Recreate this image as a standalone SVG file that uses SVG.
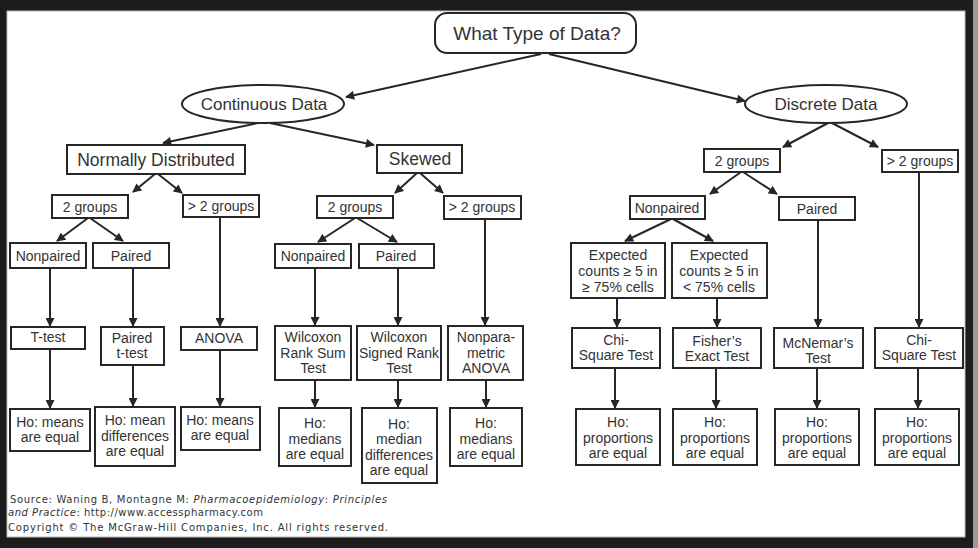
<svg xmlns="http://www.w3.org/2000/svg" width="978" height="548" viewBox="0 0 978 548">
<style>
.box{fill:#fff;stroke:#262626;stroke-width:2}
.t{font-family:"Liberation Sans",Arial,sans-serif;font-size:14px;fill:#333;text-anchor:middle}
.big{font-size:17.5px}
.ell{font-size:17px}
.c line{stroke:#262626;stroke-width:2;marker-end:url(#ah)}
.src{font-family:"DejaVu Sans",Verdana,sans-serif;font-size:10px;fill:#333}
</style>
<defs>
<marker id="ah" viewBox="0 0 10 10" refX="9" refY="5" markerWidth="10" markerHeight="9" markerUnits="userSpaceOnUse" orient="auto">
<path d="M0,0 L10,5 L0,10 z" fill="#262626"/>
</marker>
</defs>
<rect x="0" y="0" width="978" height="548" fill="#1c1c1c"/>
<rect x="7" y="11" width="958" height="526" fill="#fff" stroke="#bbb" stroke-width="1"/>
<rect x="973" y="0" width="5" height="548" fill="#9a9a9a"/>

<g class="c" id="connectors">
<line x1="541" y1="54" x2="346" y2="97"/>
<line x1="549" y1="54" x2="745" y2="101"/>
<line x1="258" y1="123" x2="163" y2="143"/>
<line x1="270" y1="123" x2="374" y2="145"/>
<line x1="828" y1="123" x2="783" y2="147"/>
<line x1="832" y1="123" x2="878" y2="147"/>
<line x1="155" y1="174" x2="133" y2="192"/>
<line x1="158" y1="174" x2="182" y2="193"/>
<line x1="417" y1="173" x2="395" y2="193"/>
<line x1="420" y1="173" x2="443" y2="193"/>
<line x1="741" y1="172" x2="710" y2="194"/>
<line x1="743" y1="172" x2="777" y2="194"/>
<line x1="88" y1="218" x2="57" y2="241"/>
<line x1="90" y1="218" x2="123" y2="241"/>
<line x1="355" y1="218" x2="318" y2="242"/>
<line x1="357" y1="218" x2="397" y2="242"/>
<line x1="671" y1="219" x2="625" y2="241"/>
<line x1="673" y1="219" x2="713" y2="241"/>
<line x1="50" y1="268" x2="50" y2="326"/>
<line x1="133" y1="268" x2="133" y2="326"/>
<line x1="220" y1="217" x2="220" y2="326"/>
<line x1="315" y1="268" x2="315" y2="325"/>
<line x1="398" y1="268" x2="398" y2="325"/>
<line x1="485" y1="219" x2="485" y2="325"/>
<line x1="617" y1="298" x2="617" y2="327"/>
<line x1="717" y1="298" x2="717" y2="327"/>
<line x1="818" y1="220" x2="818" y2="327"/>
<line x1="919" y1="172" x2="919" y2="327"/>
<line x1="50" y1="349" x2="50" y2="408"/>
<line x1="133" y1="365" x2="133" y2="406"/>
<line x1="220" y1="350" x2="220" y2="406"/>
<line x1="315" y1="380" x2="315" y2="407"/>
<line x1="398" y1="380" x2="398" y2="407"/>
<line x1="486" y1="380" x2="486" y2="407"/>
<line x1="615" y1="368" x2="615" y2="408"/>
<line x1="716" y1="368" x2="716" y2="408"/>
<line x1="817" y1="368" x2="817" y2="408"/>
<line x1="918" y1="368" x2="918" y2="408"/>
</g>

<g id="root"><rect class="box" x="435" y="13" width="201" height="40" rx="12" stroke-width="2.5"/><text class="t" x="537" y="40" font-size="19" style="font-size:19px">What Type of Data?</text></g>
<g id="continuous"><ellipse class="box" cx="263" cy="104" rx="81" ry="19"/><text class="t ell" x="264" y="110">Continuous Data</text></g>
<g id="discrete"><ellipse class="box" cx="826" cy="104" rx="81" ry="19"/><text class="t ell" x="826" y="110">Discrete Data</text></g>

<g id="normal"><rect class="box" x="67" y="145" width="178" height="29"/><text class="t big" x="156" y="166">Normally Distributed</text></g>
<g id="skewed"><rect class="box" x="377" y="145" width="85" height="28"/><text class="t big" x="420" y="165">Skewed</text></g>

<g id="nd-2g"><rect class="box" x="52" y="195" width="76" height="23"/><text class="t" x="90" y="212">2 groups</text></g>
<g id="nd-gt2"><rect class="box" x="183" y="195" width="76" height="22"/><text class="t" x="221" y="211">&gt; 2 groups</text></g>
<g id="nd-np"><rect class="box" x="10" y="243" width="76" height="25"/><text class="t" x="48" y="261">Nonpaired</text></g>
<g id="nd-p"><rect class="box" x="93" y="243" width="76" height="25"/><text class="t" x="131" y="261">Paired</text></g>

<g id="sk-2g"><rect class="box" x="317" y="196" width="76" height="22"/><text class="t" x="355" y="212">2 groups</text></g>
<g id="sk-gt2"><rect class="box" x="444" y="196" width="77" height="23"/><text class="t" x="482" y="212">&gt; 2 groups</text></g>
<g id="sk-np"><rect class="box" x="275" y="244" width="76" height="24"/><text class="t" x="313" y="261">Nonpaired</text></g>
<g id="sk-p"><rect class="box" x="359" y="244" width="75" height="24"/><text class="t" x="396" y="261">Paired</text></g>

<g id="d-2g"><rect class="box" x="704" y="149" width="76" height="23"/><text class="t" x="742" y="166">2 groups</text></g>
<g id="d-gt2"><rect class="box" x="882" y="150" width="76" height="22"/><text class="t" x="920" y="166">&gt; 2 groups</text></g>
<g id="d-np"><rect class="box" x="630" y="196" width="75" height="23"/><text class="t" x="667" y="213">Nonpaired</text></g>
<g id="d-p"><rect class="box" x="779" y="197" width="76" height="23"/><text class="t" x="817" y="214">Paired</text></g>
<g id="exp1"><rect class="box" x="571" y="243" width="94" height="55"/><text class="t" x="618" y="260"><tspan x="618">Expected</tspan><tspan x="618" dy="16">counts ≥ 5 in</tspan><tspan x="618" dy="16">≥ 75% cells</tspan></text></g>
<g id="exp2"><rect class="box" x="672" y="243" width="95" height="55"/><text class="t" x="719" y="260"><tspan x="719">Expected</tspan><tspan x="719" dy="16">counts ≥ 5 in</tspan><tspan x="719" dy="16">&lt; 75% cells</tspan></text></g>

<g id="ttest"><rect class="box" x="11" y="327" width="74" height="22"/><text class="t" x="48" y="342">T-test</text></g>
<g id="pairedt"><rect class="box" x="101" y="327" width="63" height="38"/><text class="t" x="132" y="343"><tspan x="132">Paired</tspan><tspan x="132" dy="15">t-test</tspan></text></g>
<g id="anova"><rect class="box" x="181" y="327" width="76" height="23"/><text class="t" x="219" y="343">ANOVA</text></g>
<g id="wrs"><rect class="box" x="275" y="326" width="76" height="54"/><text class="t" x="313" y="342"><tspan x="313">Wilcoxon</tspan><tspan x="313" dy="15.5">Rank Sum</tspan><tspan x="313" dy="15.5">Test</tspan></text></g>
<g id="wsr"><rect class="box" x="357" y="326" width="84" height="54"/><text class="t" x="399" y="342"><tspan x="399">Wilcoxon</tspan><tspan x="399" dy="15.5">Signed Rank</tspan><tspan x="399" dy="15.5">Test</tspan></text></g>
<g id="npa"><rect class="box" x="448" y="326" width="75" height="54"/><text class="t" x="486" y="342"><tspan x="486">Nonpara-</tspan><tspan x="486" dy="15.5">metric</tspan><tspan x="486" dy="15.5">ANOVA</tspan></text></g>
<g id="chi1"><rect class="box" x="572" y="328" width="88" height="40"/><text class="t" x="616" y="345"><tspan x="616">Chi-</tspan><tspan x="616" dy="15">Square Test</tspan></text></g>
<g id="fisher"><rect class="box" x="673" y="328" width="88" height="40"/><text class="t" x="717" y="346"><tspan x="717">Fisher’s</tspan><tspan x="717" dy="15">Exact Test</tspan></text></g>
<g id="mcnemar"><rect class="box" x="774" y="328" width="89" height="40"/><text class="t" x="818" y="348"><tspan x="818">McNemar’s</tspan><tspan x="818" dy="15">Test</tspan></text></g>
<g id="chi2"><rect class="box" x="875" y="328" width="88" height="40"/><text class="t" x="919" y="345"><tspan x="919">Chi-</tspan><tspan x="919" dy="15">Square Test</tspan></text></g>

<g id="ho1"><rect class="box" x="10" y="409" width="80" height="42"/><text class="t" x="50" y="427"><tspan x="50">Ho: means</tspan><tspan x="50" dy="15">are equal</tspan></text></g>
<g id="ho2"><rect class="box" x="95" y="407" width="80" height="59"/><text class="t" x="135" y="425"><tspan x="135">Ho: mean</tspan><tspan x="135" dy="15.5">differences</tspan><tspan x="135" dy="15.5">are equal</tspan></text></g>
<g id="ho3"><rect class="box" x="181" y="407" width="79" height="43"/><text class="t" x="220" y="425"><tspan x="220">Ho: means</tspan><tspan x="220" dy="15">are equal</tspan></text></g>
<g id="ho4"><rect class="box" x="279" y="408" width="72" height="58"/><text class="t" x="315" y="428"><tspan x="315">Ho:</tspan><tspan x="315" dy="15.5">medians</tspan><tspan x="315" dy="15.5">are equal</tspan></text></g>
<g id="ho5"><rect class="box" x="362" y="408" width="75" height="75"/><text class="t" x="399" y="429"><tspan x="399">Ho:</tspan><tspan x="399" dy="15">median</tspan><tspan x="399" dy="15.5">differences</tspan><tspan x="399" dy="15.5">are equal</tspan></text></g>
<g id="ho6"><rect class="box" x="450" y="408" width="72" height="58"/><text class="t" x="486" y="428"><tspan x="486">Ho:</tspan><tspan x="486" dy="15.5">medians</tspan><tspan x="486" dy="15.5">are equal</tspan></text></g>
<g id="ho7"><rect class="box" x="576" y="409" width="84" height="56"/><text class="t" x="618" y="427"><tspan x="618">Ho:</tspan><tspan x="618" dy="15.5">proportions</tspan><tspan x="618" dy="15.5">are equal</tspan></text></g>
<g id="ho8"><rect class="box" x="673" y="409" width="84" height="56"/><text class="t" x="715" y="427"><tspan x="715">Ho:</tspan><tspan x="715" dy="15.5">proportions</tspan><tspan x="715" dy="15.5">are equal</tspan></text></g>
<g id="ho9"><rect class="box" x="775" y="409" width="84" height="56"/><text class="t" x="817" y="427"><tspan x="817">Ho:</tspan><tspan x="817" dy="15.5">proportions</tspan><tspan x="817" dy="15.5">are equal</tspan></text></g>
<g id="ho10"><rect class="box" x="875" y="409" width="84" height="56"/><text class="t" x="917" y="427"><tspan x="917">Ho:</tspan><tspan x="917" dy="15.5">proportions</tspan><tspan x="917" dy="15.5">are equal</tspan></text></g>

<g id="source">
<text class="src" x="10" y="503" textLength="377" lengthAdjust="spacing">Source: Waning B, Montagne M: <tspan font-style="italic">Pharmacoepidemiology</tspan>: <tspan font-style="italic">Principles</tspan></text>
<text class="src" x="8" y="516" textLength="255" lengthAdjust="spacing"><tspan font-style="italic">and Practice</tspan>: http://www.accesspharmacy.com</text>
<text class="src" x="8" y="531" textLength="380" lengthAdjust="spacing">Copyright © The McGraw-Hill Companies, Inc. All rights reserved.</text>
</g>
</svg>
